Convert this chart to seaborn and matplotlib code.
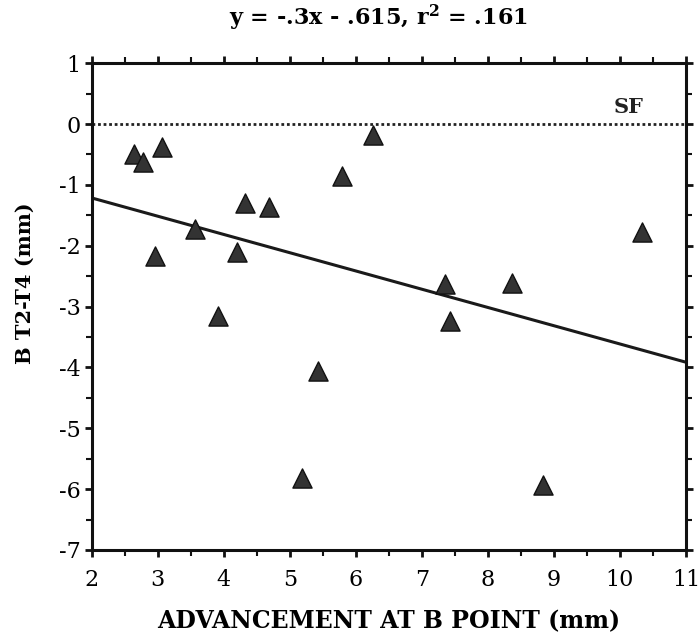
import numpy as np
import pandas as pd
import matplotlib
matplotlib.use("Agg")
import matplotlib.pyplot as plt
import seaborn as sns
from matplotlib.ticker import MultipleLocator

# Data
advancement = [2.64, 2.77, 3.06, 2.96, 3.56, 4.20, 4.32, 4.69, 5.79, 6.26,
               10.34, 7.35, 8.37, 3.91, 5.43, 5.19, 7.42, 8.84]
b_t2_t4 = [-0.49, -0.63, -0.38, -2.17, -1.73, -2.11, -1.29, -1.37, -0.85, -0.18,
           -1.78, -2.635, -2.61, -3.16, -4.06, -5.82, -3.24, -5.93]
slope = -0.3
intercept = -0.615
line_x = [2, 11]
title_text = "y = -.3x - .615, r$^{\\mathbf{2}}$ = .161"

df = pd.DataFrame({"x": advancement, "y": b_t2_t4})
line_df = pd.DataFrame({"x": line_x, "y": [slope * v + intercept for v in line_x]})

sns.set_theme(style="white")
plt.rcParams["font.family"] = ["DejaVu Serif"]
plt.rcParams["axes.unicode_minus"] = False
plt.rcParams["mathtext.fontset"] = "custom"
plt.rcParams["mathtext.rm"] = "DejaVu Serif"
plt.rcParams["mathtext.bf"] = "DejaVu Serif:bold"
plt.rcParams["text.color"] = "black"
plt.rcParams["axes.labelcolor"] = "black"
plt.rcParams["xtick.color"] = "black"
plt.rcParams["ytick.color"] = "black"

fig = plt.figure(figsize=(7.0, 6.38), dpi=100)
ax = fig.add_axes([0.131, 0.138, 0.849, 0.763])

ax.axhline(0, color="#222222", linestyle=(0, (1, 1)), linewidth=2.0, zorder=1)
sns.lineplot(data=line_df, x="x", y="y", ax=ax, color="#1a1a1a", linewidth=2.2, zorder=2)
sns.scatterplot(data=df, x="x", y="y", ax=ax, marker="^", s=190, color="#333333",
                edgecolor="#111111", linewidth=1.0, zorder=3)

ax.set_xlim(2, 11)
ax.set_ylim(-7, 1)
ax.xaxis.set_major_locator(MultipleLocator(1))
ax.xaxis.set_minor_locator(MultipleLocator(0.5))
ax.yaxis.set_major_locator(MultipleLocator(1))
ax.yaxis.set_minor_locator(MultipleLocator(0.5))
ax.tick_params(which="both", direction="out", top=True, right=True, bottom=True, left=True,
               color="#111111")
ax.tick_params(which="major", length=5, width=2, labelsize=16)
ax.tick_params(axis="x", which="major", pad=9)
ax.tick_params(axis="y", which="major", pad=3)
ax.tick_params(which="minor", length=4, width=1.5)
for sp in ax.spines.values():
    sp.set_color("#111111")
    sp.set_linewidth(2.2)

ax.text(9.9, 0.12, "SF", fontsize=15, fontweight="bold", color="#222222", va="bottom")

ax.set_xlabel("ADVANCEMENT AT B POINT (mm)", fontsize=17, fontweight="bold", labelpad=13)
ax.set_ylabel("B T2-T4 (mm)", fontsize=15, fontweight="bold")
ax.yaxis.set_label_coords(-0.096, 0.548)
ax.set_title(title_text, fontsize=16, fontweight="bold", pad=27, x=0.482)

fig.savefig("out.png", dpi=100)
